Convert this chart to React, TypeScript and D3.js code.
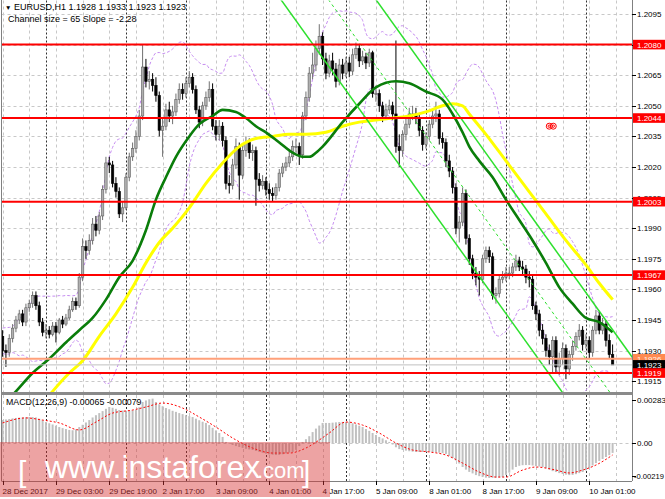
import React from "react";
import * as d3 from "d3";

const W = 665;
const H = 499;

// ---- EURUSD H1 candles (bar 0 = 28 Dec 11:00) ----
const firstOpen = 1.1937;
const closes = [
  1.1930, 1.1929, 1.1936, 1.1941, 1.1945, 1.1948, 1.1944, 1.1951, 1.1953, 1.1957,
  1.1952, 1.1944, 1.1939, 1.1940, 1.1938, 1.1942, 1.1939, 1.1945, 1.1943, 1.1946,
  1.1950, 1.1954, 1.1952, 1.1966, 1.1981, 1.1979, 1.1984, 1.1992, 1.1989, 1.1996,
  1.2009, 1.2022, 1.2021, 1.2012, 1.2008, 1.1997, 1.2000, 1.2015, 1.2025, 1.2029,
  1.2035, 1.2045, 1.2069, 1.2062, 1.2063, 1.2060, 1.2055, 1.2038, 1.2040, 1.2048,
  1.2045, 1.2047, 1.2053, 1.2058, 1.2056, 1.2061, 1.2064, 1.2058, 1.2048, 1.2042,
  1.2050, 1.2054, 1.2058, 1.2040, 1.2036, 1.2040, 1.2033, 1.2012, 1.2011, 1.2021,
  1.2030, 1.2016, 1.2028, 1.2032, 1.2027, 1.2028, 1.2014, 1.2011, 1.2013, 1.2009,
  1.2007, 1.2006, 1.2010, 1.2017, 1.2020, 1.2022, 1.2025, 1.2030, 1.2030, 1.2026,
  1.2045, 1.2054, 1.2066, 1.2070, 1.2078, 1.2084, 1.2073, 1.2066, 1.2072, 1.2068,
  1.2062, 1.2070, 1.2066, 1.2071, 1.2067, 1.2075, 1.2078, 1.2072, 1.2074, 1.2071,
  1.2076, 1.2056, 1.2056, 1.2050, 1.2045, 1.2048, 1.2050, 1.2046, 1.2030, 1.2028,
  1.2036, 1.2041, 1.2046, 1.2046, 1.2044, 1.2038, 1.2031, 1.2035, 1.2041, 1.2045,
  1.2046, 1.2034, 1.2032, 1.2023, 1.2018, 1.2010, 1.1990, 1.1993, 1.2007, 1.1985,
  1.1975, 1.1968, 1.1966, 1.1965, 1.1975, 1.1979, 1.1976, 1.1957, 1.1958, 1.1965,
  1.1966, 1.1968, 1.1968, 1.1971, 1.1974, 1.1971, 1.1970, 1.1966, 1.1965, 1.1952,
  1.1948, 1.1940, 1.1936, 1.1930, 1.1927, 1.1935, 1.1922, 1.1926, 1.1931, 1.1921,
  1.1928, 1.1932, 1.1937, 1.1940, 1.1933, 1.1935, 1.1929, 1.1940, 1.1947, 1.1940,
  1.1943, 1.1935, 1.1928, 1.1923,
];
const highs = [
  1.1940, 1.1933, 1.1938, 1.1943, 1.1947, 1.1950, 1.1950, 1.1953, 1.1955, 1.1959,
  1.1959, 1.1954, 1.1946, 1.1943, 1.1942, 1.1944, 1.1944, 1.1946, 1.1947, 1.1948,
  1.1952, 1.1956, 1.1956, 1.1968, 1.1985, 1.1984, 1.1987, 1.1995, 1.1996, 1.1998,
  1.2011, 1.2025, 1.2025, 1.2023, 1.2015, 1.2010, 1.2003, 1.2017, 1.2027, 1.2032,
  1.2038, 1.2048, 1.2080, 1.2073, 1.2067, 1.2066, 1.2064, 1.2057, 1.2044, 1.2051,
  1.2052, 1.2050, 1.2056, 1.2061, 1.2061, 1.2064, 1.2067, 1.2066, 1.2060, 1.2050,
  1.2052, 1.2057, 1.2062, 1.2061, 1.2043, 1.2043, 1.2042, 1.2035, 1.2016, 1.2024,
  1.2034, 1.2032, 1.2031, 1.2035, 1.2034, 1.2031, 1.2030, 1.2017, 1.2016, 1.2015,
  1.2012, 1.2010, 1.2012, 1.2019, 1.2022, 1.2025, 1.2028, 1.2033, 1.2034, 1.2032,
  1.2047, 1.2057, 1.2069, 1.2076, 1.2082, 1.2090, 1.2086, 1.2076, 1.2075, 1.2076,
  1.2071, 1.2073, 1.2073, 1.2074, 1.2074, 1.2078, 1.2081, 1.2080, 1.2077, 1.2076,
  1.2078, 1.2077, 1.2060, 1.2058, 1.2052, 1.2051, 1.2053, 1.2052, 1.2082, 1.2036,
  1.2038, 1.2044, 1.2049, 1.2050, 1.2049, 1.2046, 1.2040, 1.2037, 1.2043, 1.2048,
  1.2052, 1.2048, 1.2037, 1.2034, 1.2026, 1.2020, 1.2012, 1.1996, 1.2010, 1.2009,
  1.1987, 1.1977, 1.1971, 1.1969, 1.1977, 1.1981, 1.1981, 1.1978, 1.1961, 1.1967,
  1.1969, 1.1971, 1.1971, 1.1973, 1.1977, 1.1976, 1.1974, 1.1972, 1.1969, 1.1967,
  1.1954, 1.1950, 1.1943, 1.1938, 1.1933, 1.1937, 1.1937, 1.1929, 1.1934, 1.1933,
  1.1930, 1.1935, 1.1939, 1.1943, 1.1942, 1.1938, 1.1937, 1.1942, 1.1950, 1.1949,
  1.1946, 1.1945, 1.1938, 1.1933,
];
const lows = [
  1.1927, 1.1922, 1.1927, 1.1934, 1.1939, 1.1943, 1.1942, 1.1942, 1.1949, 1.1951,
  1.1950, 1.1942, 1.1937, 1.1936, 1.1936, 1.1937, 1.1934, 1.1938, 1.1941, 1.1942,
  1.1945, 1.1949, 1.1950, 1.1951, 1.1964, 1.1975, 1.1977, 1.1982, 1.1986, 1.1987,
  1.1994, 1.2007, 1.2017, 1.2010, 1.2005, 1.1995, 1.1993, 1.1999, 1.2013, 1.2023,
  1.2027, 1.2033, 1.2043, 1.2059, 1.2058, 1.2057, 1.2052, 1.2035, 1.2025, 1.2038,
  1.2042, 1.2041, 1.2045, 1.2051, 1.2053, 1.2054, 1.2059, 1.2056, 1.2046, 1.2039,
  1.2040, 1.2048, 1.2052, 1.2038, 1.2033, 1.2033, 1.2030, 1.2009, 1.2007, 1.2009,
  1.2019, 1.2004, 1.2014, 1.2025, 1.2024, 1.2023, 1.2001, 1.2008, 1.2009, 1.2006,
  1.2004, 1.2003, 1.2004, 1.2008, 1.2015, 1.2018, 1.2020, 1.2023, 1.2027, 1.2021,
  1.2024, 1.2043, 1.2052, 1.2063, 1.2067, 1.2075, 1.2070, 1.2063, 1.2064, 1.2065,
  1.2059, 1.2060, 1.2063, 1.2064, 1.2064, 1.2065, 1.2073, 1.2069, 1.2070, 1.2068,
  1.2069, 1.2054, 1.2052, 1.2047, 1.2042, 1.2043, 1.2046, 1.2043, 1.2027, 1.2020,
  1.2025, 1.2033, 1.2039, 1.2043, 1.2041, 1.2035, 1.2028, 1.2029, 1.2033, 1.2039,
  1.2042, 1.2031, 1.2029, 1.2020, 1.2015, 1.2007, 1.1987, 1.1983, 1.1991, 1.1982,
  1.1972, 1.1965, 1.1962, 1.1957, 1.1963, 1.1973, 1.1973, 1.1955, 1.1953, 1.1956,
  1.1963, 1.1964, 1.1965, 1.1966, 1.1969, 1.1969, 1.1967, 1.1963, 1.1961, 1.1950,
  1.1945, 1.1937, 1.1933, 1.1927, 1.1923, 1.1919, 1.1919, 1.1918, 1.1923, 1.1916,
  1.1918, 1.1925, 1.1930, 1.1935, 1.1930, 1.1931, 1.1926, 1.1927, 1.1938, 1.1938,
  1.1938, 1.1932, 1.1926, 1.1923,
];
// closes of the 19 hours before bar 0 (off-screen, for the Bollinger window)
const priorCloses = [
  1.1931, 1.1934, 1.1929, 1.1933, 1.1936, 1.1932, 1.1935, 1.1939, 1.1937, 1.1934,
  1.1938, 1.1941, 1.1937, 1.1933, 1.1936, 1.1939, 1.1935, 1.1932, 1.1936,
];

// moving averages: [bar, price]
const maGreen: [number, number][] = [
  [0, 1.1903], [4, 1.1910], [9, 1.1919], [14, 1.1926], [19, 1.1934], [23, 1.1940],
  [27, 1.1946], [31, 1.1955], [35, 1.1966], [39, 1.1974], [43, 1.1989], [46, 1.2004],
  [49, 1.2015], [52, 1.2025], [56, 1.2035], [59, 1.2041], [63, 1.2045], [66, 1.2048],
  [70, 1.2047], [73, 1.2044], [76, 1.2040], [79, 1.2037], [83, 1.2032], [87, 1.2027],
  [90, 1.2025], [92, 1.2025], [94, 1.2027], [96, 1.2030], [102, 1.2042], [107, 1.2051],
  [112, 1.2059], [118, 1.2062], [122, 1.2061], [127, 1.2057], [132, 1.2053], [135, 1.2046],
  [138, 1.2037], [140, 1.2030], [143, 1.2023], [147, 1.2015], [151, 1.2004], [155, 1.1994],
  [159, 1.1984], [163, 1.1973], [167, 1.1961], [171, 1.1953], [175, 1.1946], [179, 1.1944],
  [183, 1.1939],
];
const maYellow: [number, number][] = [
  [12, 1.1904], [15, 1.1910], [20, 1.1919], [24, 1.1925], [29, 1.1937], [34, 1.1948],
  [39, 1.1961], [43, 1.1973], [47, 1.1983], [51, 1.1990], [56, 1.2000], [61, 1.2012],
  [66, 1.2022], [71, 1.2030], [76, 1.2034], [81, 1.2035], [86, 1.2036], [91, 1.2036],
  [97, 1.2037], [102, 1.2040], [107, 1.2042], [112, 1.2043], [117, 1.2044], [122, 1.2045],
  [127, 1.2047], [132, 1.2050], [135, 1.2051], [138, 1.2050], [140, 1.2046], [145, 1.2036],
  [151, 1.2023], [157, 1.2010], [163, 1.1997], [169, 1.1984], [175, 1.1972], [179, 1.1963],
  [183, 1.1955],
];

// MACD(12,26,9), histogram per bar in units of 0.00001
const macdHistE5 = [
  151, 155, 158, 162, 165, 167, 168, 170, 171, 171, 168, 160, 150,
  138, 130, 122, 114, 105, 98, 92, 86, 84, 90,
  105, 120, 135, 151, 168, 183, 197, 210, 225, 237,
  232, 225, 217, 214, 212, 213, 215, 217, 235,
  270, 280, 288, 292, 270, 255, 242, 230, 222,
  212, 205, 197, 190, 183, 177, 171, 160, 150, 140,
  132, 118, 100, 83, 66, 40, 7, -3, -13, -20,
  -26, -32, -38, -42, -46, -52, -58, -64, -70, -75,
  -77, -79, -78, -74, -68, -63, -59, -45, -20, 7,
  25, 45, 72, 95, 115, 132, 132, 132, 134, 136,
  138, 139, 139, 138, 130, 122, 114, 105, 92, 80,
  66, 53, 40, 30, 18, 7, -10, -28, -40, -46,
  -50, -54, -57, -59, -59, -59, -59, -59, -60, -62,
  -64, -66, -72, -85, -99, -115, -135, -158, -175, -190,
  -200, -211, -218, -224, -228, -230, -229, -228, -226, -224,
  -210, -195, -175, -158, -150, -146, -145, -145, -148, -152,
  -155, -158, -165, -175, -185, -191, -198, -204, -208, -211,
  -210, -205, -198, -191, -180, -165, -148, -132, -118, -105, -92, -80, -65,
];
const macdSignalE5: [number, number][] = [
  [0, 132], [7, 165], [12, 151], [17, 132], [23, 86], [28, 138], [33, 197], [39, 217],
  [43, 237], [48, 263], [54, 230], [59, 171], [64, 105], [69, 33], [75, -33], [81, -66],
  [86, -66], [91, -33], [95, 20], [98, 66], [103, 138], [108, 118], [113, 66], [118, 0],
  [123, -46], [128, -59], [133, -79], [138, -132], [143, -191], [148, -224], [151, -224],
  [156, -178], [160, -158], [166, -178], [170, -197], [174, -178], [178, -145], [183, -79],
];

const levels = [1.2080, 1.2044, 1.2003, 1.1967, 1.1919];
const pendingLevel = 1.1926;
const bidLevel = 1.1923;
const priceTicks = [1.2095, 1.2080, 1.2065, 1.2050, 1.2035, 1.2020, 1.2005, 1.1990, 1.1975, 1.1960, 1.1945, 1.1930, 1.1915];
const macdTicks = [0.00283, 0.0, -0.00219];
const macdTickText = ["0.00283", "0.00", "-0.00219"];
const timeLabels = [
  "28 Dec 2017", "29 Dec 03:00", "29 Dec 19:00", "2 Jan 17:00", "3 Jan 09:00", "4 Jan 01:00",
  "4 Jan 17:00", "5 Jan 09:00", "8 Jan 01:00", "8 Jan 17:00", "9 Jan 09:00", "10 Jan 01:00",
];
const daySeparators = [13, 37, 55, 79, 103, 127, 151, 175];
// regression channel: slope in price per bar, size in price
const chAnchorBar = 139;
const chAnchorPrice = 1.2008;
const chSlope = -0.000228;
const chSize = 0.0065;
const markerBar = 164.6;
const markerPrice = 1.2040;

const FONT = "'Liberation Sans', Arial, sans-serif";

export default function App() {
  const plotL = 1.5, plotR = 632, mainT = 0.5, mainB = 392, macdT = 395, macdB = 481;
  const x = d3.scaleLinear().domain([0, 183]).range([2.6, 612.6]);
  const y = d3.scaleLinear().domain([1.1915, 1.2095]).range([381.2, 14]);
  const ym = d3.scaleLinear().domain([-0.00219, 0.00283]).range([476.3, 400]);

  const opens = closes.map((c, i) => (i === 0 ? firstOpen : closes[i - 1]));

  // Bollinger bands (20, 2) on closes
  const all = priorCloses.concat(closes);
  const bbUp: [number, number][] = [];
  const bbDn: [number, number][] = [];
  closes.forEach((_, i) => {
    const win = all.slice(i, i + 20);
    const m = d3.mean(win) as number;
    const sd = Math.sqrt(d3.mean(win.map((v) => (v - m) * (v - m))) as number);
    bbUp.push([i, m + 2 * sd]);
    bbDn.push([i, m - 2 * sd]);
  });

  const lineP = d3.line<[number, number]>().x((d) => x(d[0])).y((d) => y(d[1])).curve(d3.curveMonotoneX);
  const lineStraight = d3.line<[number, number]>().x((d) => x(d[0])).y((d) => y(d[1]));
  const lineM = d3.line<[number, number]>().x((d) => x(d[0])).y((d) => ym(d[1] * 1e-5)).curve(d3.curveMonotoneX);

  const chLine = (off: number) => {
    const b0 = 60, b1 = 200;
    return lineStraight([
      [b0, chAnchorPrice + chSlope * (b0 - chAnchorBar) + off],
      [b1, chAnchorPrice + chSlope * (b1 - chAnchorBar) + off],
    ]) as string;
  };

  const vGrid = d3.range(0, 185, 8);
  const hGrid = priceTicks;
  const bw = 2.4;

  const boxes = [
    { v: pendingLevel, fill: "#ff8a50", text: "#fff2e8" },
    { v: bidLevel, fill: "#000000", text: "#ffffff" },
    ...levels.map((v) => ({ v, fill: "#ff0000", text: "#ffffff" })),
  ];

  return (
    <svg width={W} height={H} style={{ position: "absolute", left: 0, top: 0, background: "#fff" }} fontFamily={FONT}>
      <defs>
        <clipPath id="mainClip"><rect x={plotL} y={mainT} width={plotR - plotL} height={mainB - mainT} /></clipPath>
        <clipPath id="macdClip"><rect x={plotL} y={macdT} width={plotR - plotL} height={macdB - macdT} /></clipPath>
      </defs>
      <rect x={0} y={0} width={W} height={H} fill="#ffffff" />

      {/* grid */}
      <g stroke="#c8c8c8" strokeWidth={1} strokeDasharray="3,3">
        {hGrid.map((p) => (
          <line key={"h" + p} x1={plotL} x2={plotR} y1={Math.round(y(p)) + 0.5} y2={Math.round(y(p)) + 0.5} />
        ))}
        {vGrid.map((b) => (
          <line key={"v" + b} x1={Math.round(x(b)) + 0.5} x2={Math.round(x(b)) + 0.5} y1={mainT} y2={mainB} />
        ))}
        {vGrid.map((b) => (
          <line key={"vm" + b} x1={Math.round(x(b)) + 0.5} x2={Math.round(x(b)) + 0.5} y1={macdT} y2={macdB} />
        ))}
        <line x1={plotL} x2={plotR} y1={Math.round(ym(0)) + 0.5} y2={Math.round(ym(0)) + 0.5} />
      </g>
      <g stroke="#303030" strokeWidth={1} strokeDasharray="2,2">
        {daySeparators.map((b) => (
          <g key={"d" + b}>
            <line x1={Math.round(x(b)) + 0.5} x2={Math.round(x(b)) + 0.5} y1={mainT} y2={mainB} />
            <line x1={Math.round(x(b)) + 0.5} x2={Math.round(x(b)) + 0.5} y1={macdT} y2={macdB} />
          </g>
        ))}
      </g>

      {/* main panel content */}
      <g clipPath="url(#mainClip)">
        <path d={lineP(bbUp) as string} fill="none" stroke="#c58cf0" strokeWidth={1} strokeDasharray="3,2" />
        <path d={lineP(bbDn) as string} fill="none" stroke="#c58cf0" strokeWidth={1} strokeDasharray="3,2" />
        {closes.map((c, i) => {
          const o = opens[i];
          const bull = c >= o;
          const cx = x(i);
          const top = y(Math.max(o, c));
          const bot = y(Math.min(o, c));
          return (
            <g key={"c" + i}>
              <line x1={cx} x2={cx} y1={y(highs[i])} y2={y(lows[i])} stroke={bull ? "#707070" : "#000"} strokeWidth={1} />
              <rect x={cx - bw / 2} y={top} width={bw} height={Math.max(1, bot - top)}
                fill={bull ? "#b0b0b0" : "#000"} stroke={bull ? "#606060" : "#000"} strokeWidth={0.6} />
            </g>
          );
        })}
        <path d={lineP(maYellow) as string} fill="none" stroke="#ffff00" strokeWidth={3} />
        <path d={lineP(maGreen) as string} fill="none" stroke="#0a7d0a" strokeWidth={2.6} />
        <path d={chLine(chSize / 2)} stroke="#2de02d" strokeWidth={1.5} fill="none" />
        <path d={chLine(-chSize / 2)} stroke="#2de02d" strokeWidth={1.5} fill="none" />
        <path d={chLine(0)} stroke="#2de02d" strokeWidth={1} strokeDasharray="3,3" fill="none" />
        <line x1={plotL} x2={plotR} y1={y(bidLevel)} y2={y(bidLevel)} stroke="#c0c0c0" strokeWidth={1} />
        <line x1={plotL} x2={plotR} y1={y(pendingLevel)} y2={y(pendingLevel)} stroke="#ffa07a" strokeWidth={2} />
        {levels.map((v) => (
          <line key={"l" + v} x1={plotL} x2={plotR} y1={y(v)} y2={y(v)} stroke="#ff0000" strokeWidth={2} />
        ))}
        <g fill="none" stroke="#ff0000" strokeWidth={1}>
          <circle cx={x(markerBar) - 2} cy={y(markerPrice)} r={3} />
          <circle cx={x(markerBar) + 2} cy={y(markerPrice)} r={3} />
          <circle cx={x(markerBar) - 2} cy={y(markerPrice)} r={1.2} />
          <circle cx={x(markerBar) + 2} cy={y(markerPrice)} r={1.2} />
        </g>
      </g>

      {/* MACD panel */}
      <g clipPath="url(#macdClip)">
        {macdHistE5.map((v, i) => {
          const y0 = ym(0), y1 = ym(v * 1e-5);
          return <rect key={"m" + i} x={x(i) - 1} width={2} y={Math.min(y0, y1)} height={Math.max(0.5, Math.abs(y1 - y0))} fill="#c0c0c0" />;
        })}
        <path d={lineM(macdSignalE5) as string} fill="none" stroke="#ff0000" strokeWidth={1} strokeDasharray="2,2" />
      </g>

      {/* frames */}
      <g fill="none" stroke="#808080" strokeWidth={1}>
        <line x1={plotL} x2={plotL} y1={0} y2={macdB} />
        <line x1={plotR + 0.5} x2={plotR + 0.5} y1={0} y2={macdB} />
        <line x1={plotL} x2={plotR} y1={macdB + 0.5} y2={macdB + 0.5} />
      </g>
      <rect x={plotL} y={mainB} width={plotR - plotL + 0.5} height={3} fill="#8a8a8a" />

      {/* price axis */}
      <g fontSize={8} fill="#000">
        {priceTicks.map((p) => (
          <g key={"t" + p}>
            <line x1={plotR} x2={plotR + 4} y1={Math.round(y(p)) + 0.5} y2={Math.round(y(p)) + 0.5} stroke="#000" />
            <text x={637} y={y(p) + 3}>{p.toFixed(4)}</text>
          </g>
        ))}
        {boxes.map((b) => (
          <g key={"b" + b.v}>
            <rect x={633} y={y(b.v) - 4.8} width={32} height={9.6} fill={b.fill} />
            <text x={637} y={y(b.v) + 3} fill={b.text}>{b.v.toFixed(4)}</text>
          </g>
        ))}
        {macdTicks.map((v, k) => (
          <g key={"mt" + k}>
            <line x1={plotR} x2={plotR + 4} y1={Math.round(ym(v)) + 0.5} y2={Math.round(ym(v)) + 0.5} stroke="#000" />
            <text x={v < 0 ? 634 : 637} y={ym(v) + 3} fontSize={v < 0 ? 7.6 : 8}>{macdTickText[k]}</text>
          </g>
        ))}
      </g>

      {/* time axis */}
      <g fontSize={8} fill="#000">
        {timeLabels.map((t, k) => (
          <g key={"tl" + k}>
            <line x1={Math.round(x(k * 16)) + 0.5} x2={Math.round(x(k * 16)) + 0.5} y1={macdB} y2={macdB + 4} stroke="#000" />
            <text x={x(k * 16)} y={494}>{t}</text>
          </g>
        ))}
      </g>

      {/* header texts */}
      <g fontSize={9} fill="#000">
        <text x={5} y={10} fontSize={6.5}>▼</text>
        <text x={14} y={10}>EURUSD,H1  1.1928 1.1933 1.1923 1.1923</text>
        <text x={8} y={22}>Channel size = 65 Slope = -2.28</text>
        <text x={6} y={405} fontSize={8.8}>MACD(12,26,9) -0.00065 -0.00079</text>
      </g>

      {/* watermark */}
      <rect x={0} y={442} width={330} height={55} fill="rgba(214,50,50,0.45)" />
      <g fill="#ffffff" fontFamily={FONT}>
        <text x={18} y={482} fontSize={30}>[</text>
        <text x={45} y={478} fontSize={32}>www.instaforex</text>
        <text x={257} y={478} fontSize={22}>.com</text>
        <text x={302} y={482} fontSize={30}>]</text>
      </g>
    </svg>
  );
}
